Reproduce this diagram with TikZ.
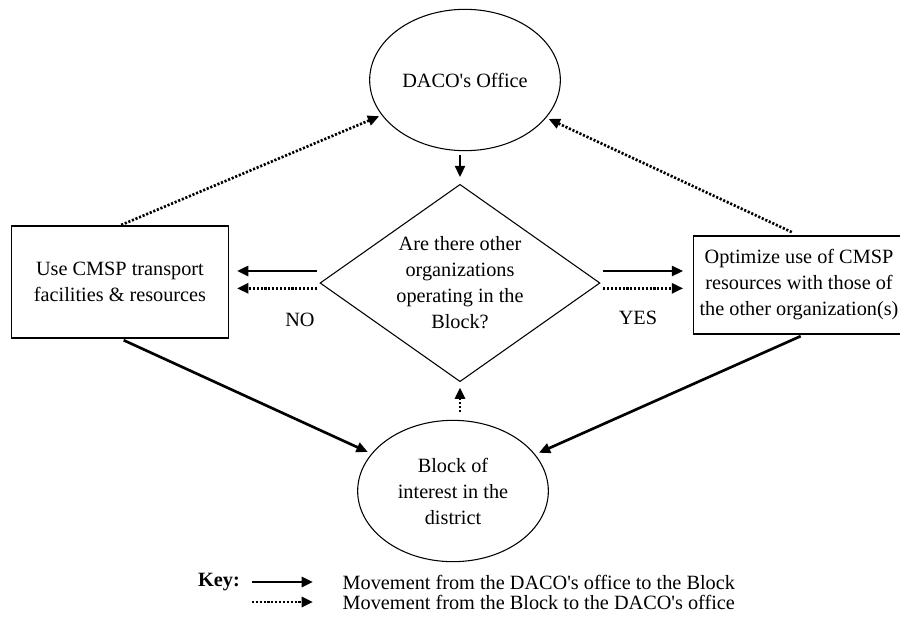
\documentclass[tikz,border=0pt]{standalone}
\usepackage{fontspec}
\setmainfont{Liberation Serif}
\usepackage{tikz}
\usetikzlibrary{shapes,shapes.geometric,arrows,arrows.meta,positioning,calc}
\newcommand{\apos}{\textquotesingle}

\begin{document}
\begin{tikzpicture}[
    x=0.75pt, y=-0.75pt,
    every node/.style={font=\fontsize{15.2}{19.5}\selectfont},
    oval/.style={draw, ellipse, line width=0.8pt, inner sep=0pt, minimum width=143pt, minimum height=106pt, align=center},
    decision/.style={draw, diamond, line width=0.8pt, inner sep=0pt, aspect=1.42, minimum width=210pt, minimum height=148pt, align=center},
    box/.style={draw, rectangle, line width=0.8pt, align=center},
    solidarrow/.style={-{Triangle[length=8.5pt,width=7.5pt]}, line width=2pt},
    dotarrow/.style={-{Triangle[length=8.5pt,width=7.5pt]}, line width=2pt, dash pattern=on 1.6pt off 1.3pt}
]
    \useasboundingbox (0,0) rectangle (900,622);

    \node[oval] (daco) at (465,80) {DACO\apos s Office};
    \node[decision] (question) at (460,283) {Are there other\\organizations\\operating in the\\Block?};
    \node[oval] (block) at (453,491) {Block of\\interest in the\\district};
    \node[box, minimum width=162.75pt, minimum height=84pt] (usecmsp) at (120,282) {Use CMSP transport\\facilities \& resources};
    \node[box, minimum width=158pt, minimum height=73.5pt, inner xsep=2pt] (optimize) at (799,285) {Optimize use of CMSP\\resources with those of\\the other organization(s)};

    % DACO's office -> question
    \draw[solidarrow, shorten <=3pt, shorten >=5pt] (question.north |- daco.south) -- (question.north);
    \draw[dotarrow, shorten <=6pt, shorten >=4pt] (question.south |- block.north) -- (question.south);

    % NO branch
    \draw[solidarrow, shorten <=2pt, shorten >=6pt] ([yshift=9pt]question.west) -- ([yshift=9pt]question.west -| usecmsp.east);
    \draw[dotarrow, shorten <=2pt, shorten >=6pt] ([yshift=-4pt]question.west) -- ([yshift=-4pt]question.west -| usecmsp.east);
    \node (no) at (300,320) {NO};

    % YES branch
    \draw[solidarrow, shorten <=2pt, shorten >=7.5pt] ([yshift=9pt]question.east) -- ([yshift=9pt]question.east -| optimize.west);
    \draw[dotarrow, shorten <=2pt, shorten >=7.5pt] ([yshift=-4pt]question.east) -- ([yshift=-4pt]question.east -| optimize.west);
    \node (yes) at (638,318) {YES};

    % boxes to block and back to office
    \draw[dotarrow, shorten <=1pt, shorten >=2pt] (usecmsp.north) -- (daco);
    \draw[dotarrow, shorten <=6pt, shorten >=2pt] (optimize.north) -- (daco);
    \draw[solidarrow, shorten <=3pt, shorten >=3pt] ([xshift=4pt]optimize.south) -- (block);
    \draw[solidarrow, shorten <=3pt, shorten >=3pt] (usecmsp.south) -- (block);

    % key
    \node[font=\fontsize{15.2}{19.5}\selectfont\bfseries] (key) at (219,582) {Key:};
    \coordinate (keyA) at (252,582);
    \coordinate (keyB) at (313,582);
    \coordinate (keyC) at (252,602);
    \coordinate (keyD) at (313,602);
    \draw[solidarrow] (keyA) -- (keyB);
    \draw[dotarrow] (keyC) -- (keyD);
    \node[anchor=west] (keysolid) at (338,582) {Movement from the DACO\apos s office to the Block};
    \node[anchor=west] (keydot) at (338,602) {Movement from the Block to the DACO\apos s office};
\end{tikzpicture}
\end{document}
